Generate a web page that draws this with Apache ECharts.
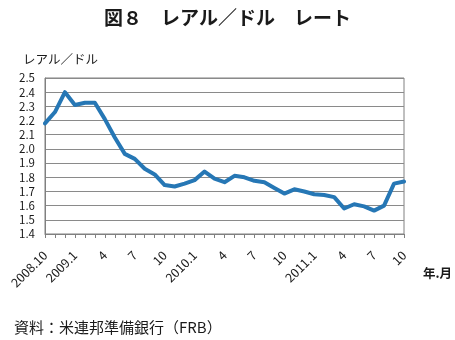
<!DOCTYPE html>
<html>
<head>
<meta charset="utf-8">
<script src="https://cdn.jsdelivr.net/npm/echarts@6/dist/echarts.min.js"></script>
<style>
  html, body { margin: 0; padding: 0; background: #fff; }
  #chart { width: 455px; height: 340px; }
</style>
</head>
<body>
<div id="chart"></div>
<script>
// Monthly BRL/USD rate, 2008.10 – 2011.10
const months = [
  '2008.10','2008.11','2008.12',
  '2009.1','2009.2','2009.3','2009.4','2009.5','2009.6','2009.7','2009.8','2009.9','2009.10','2009.11','2009.12',
  '2010.1','2010.2','2010.3','2010.4','2010.5','2010.6','2010.7','2010.8','2010.9','2010.10','2010.11','2010.12',
  '2011.1','2011.2','2011.3','2011.4','2011.5','2011.6','2011.7','2011.8','2011.9','2011.10'
];
const rate = [
  2.18, 2.26, 2.40,
  2.31, 2.325, 2.325, 2.21, 2.08, 1.965, 1.93, 1.86, 1.82, 1.745, 1.735, 1.755,
  1.78, 1.84, 1.79, 1.765, 1.81, 1.80, 1.775, 1.765, 1.725, 1.685, 1.715, 1.70,
  1.68, 1.675, 1.66, 1.58, 1.61, 1.595, 1.565, 1.60, 1.755, 1.77
];
// Labels shown under the axis (quarterly)
const tickLabels = {
  '2008.10': '2008.10', '2009.1': '2009.1', '2009.4': '4', '2009.7': '7', '2009.10': '10',
  '2010.1': '2010.1', '2010.4': '4', '2010.7': '7', '2010.10': '10',
  '2011.1': '2011.1', '2011.4': '4', '2011.7': '7', '2011.10': '10'
};
const yTicks = { min: 1.4, max: 2.5, step: 0.1 };

const font = '"Noto Sans CJK JP", "Noto Sans", sans-serif';
const chart = echarts.init(document.getElementById('chart'), null, { renderer: 'canvas' });
chart.setOption({
  animation: false,
  textStyle: { fontFamily: font },
  title: [
    { text: '図８　レアル／ドル　レート', left: 'center', top: 3,
      textStyle: { fontFamily: font, fontSize: 19, fontWeight: 'bold', color: '#1a1a1a' } },
    { text: 'レアル／ドル', left: 18, top: 48,
      textStyle: { fontFamily: font, fontSize: 12.5, fontWeight: 'normal', color: '#1a1a1a' } },
    { text: '年.月', left: 418, top: 262,
      textStyle: { fontFamily: font, fontSize: 12.5, fontWeight: 'bold', color: '#1a1a1a' } },
    { text: '資料：米連邦準備銀行（FRB）', left: 9, top: 315,
      textStyle: { fontFamily: font, fontSize: 15, fontWeight: 'normal', color: '#1a1a1a' } }
  ],
  grid: { left: 45, right: 51, top: 78, bottom: 106, show: true, borderColor: '#808080', borderWidth: 1 },
  xAxis: {
    type: 'category',
    data: months,
    boundaryGap: false,
    axisLine: { lineStyle: { color: '#808080', width: 1 } },
    axisTick: { show: true, interval: 0, length: 4, lineStyle: { color: '#808080' } },
    axisLabel: {
      interval: 0, rotate: 45, margin: 19, fontSize: 12.5, color: '#1a1a1a', fontFamily: font,
      formatter: v => tickLabels[v] || ''
    },
    splitLine: { show: false }
  },
  yAxis: {
    type: 'value',
    min: yTicks.min, max: yTicks.max, interval: yTicks.step,
    axisLine: { show: true, lineStyle: { color: '#808080', width: 1 } },
    axisTick: { show: false },
    axisLabel: { fontSize: 11.5, color: '#1a1a1a', margin: 10, fontFamily: font,
      formatter: v => v.toFixed(1) },
    splitLine: { show: true, lineStyle: { color: '#8a8a8a', width: 1 } }
  },
  series: [{
    type: 'line',
    data: rate,
    symbol: 'none',
    lineStyle: { color: '#2677b5', width: 4, join: 'round', cap: 'round' }
  }]
});
</script>
</body>
</html>
